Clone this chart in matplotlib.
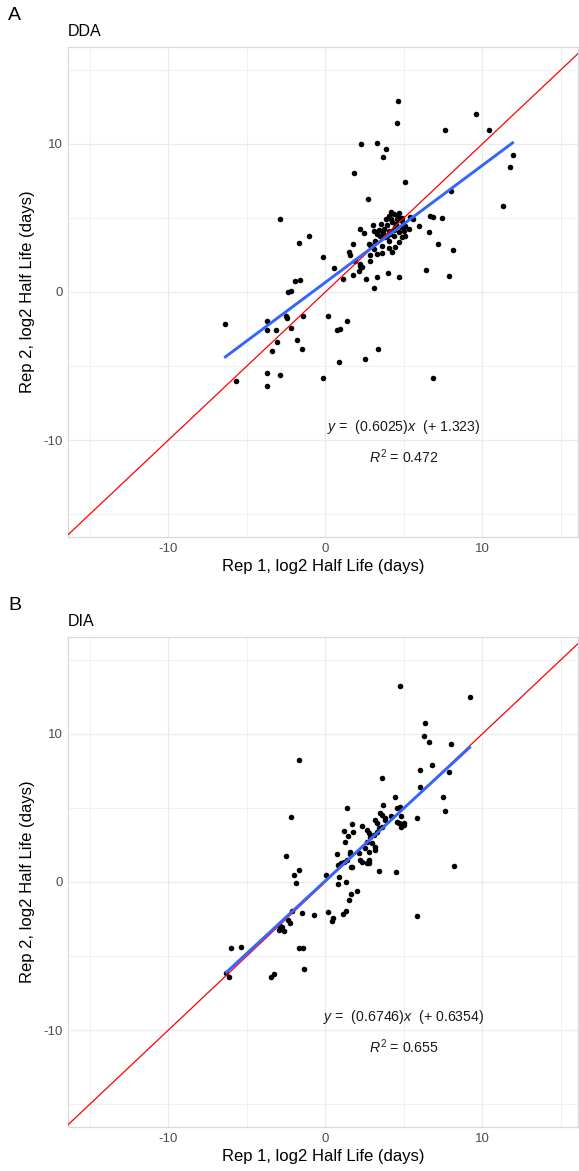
import numpy as np
import matplotlib
matplotlib.use("Agg")
import matplotlib.pyplot as plt

plt.rcParams["font.family"] = ["Liberation Sans", "DejaVu Sans"]
plt.rcParams["mathtext.fontset"] = "custom"
plt.rcParams["mathtext.rm"] = "Liberation Sans"
plt.rcParams["mathtext.it"] = "Liberation Sans:italic"
plt.rcParams["axes.unicode_minus"] = False

# DDA replicate half lives (log2 days)
dda_x = [4.63, 4.54, 9.62, 7.62, 10.42, 2.29, 3.27, 3.86, 3.67, 11.93, 11.76, 1.83, 5.10, 8.03,
         2.72, 11.34, -2.91, 6.67, 6.84, 7.43, 5.58, -1.04, 6.58, -1.70, 2.21, 2.44, 3.01, 3.08,
         1.76, 7.20, 8.13, 1.49, 1.59, -0.17, 2.82, 3.14, 2.87, 3.59, 4.05, 0.53, 2.23, 2.36,
         2.12, 1.78, 1.13, 2.61, 3.29, 3.99, 4.71, 6.39, 7.88, -1.93, -1.64, -2.40, -2.17, 3.12,
         -6.37, -3.74, -3.74, -3.17, -2.48, -2.44, -2.21, -1.40, 0.19, -3.06, -1.80, -3.42, -1.46,
         0.74, 0.93, 1.36, 0.85, 2.53, 3.38, -5.71, -3.74, -3.72, -2.91, -0.13, 6.83,
         3.57, 4.03, 4.35, 4.67, 3.86, 3.71, 4.25, 4.57, 4.88, 5.10, 4.46, 4.03, 4.67, 4.99, 5.31,
         3.50, 3.82, 4.35, 4.88, 4.03, 3.18, 4.67, 5.10, 3.61, 4.46, 2.76, 3.08, 4.25, 5.94, 3.29,
         2.87, 1.91, 2.23, 3.90, 4.20, 4.50, 3.70, 4.10, 4.80, 3.40, 4.40, 3.95, 4.60, 3.30, 4.90,
         5.40, 4.20]
dda_y = [12.90, 11.44, 12.03, 10.97, 10.97, 9.98, 10.07, 9.64, 9.12, 9.26, 8.47, 8.04, 7.41, 6.80,
         6.31, 5.79, 4.95, 5.11, 5.07, 5.00, 4.93, 3.76, 4.05, 3.31, 4.28, 4.00, 4.55, 4.10,
         3.27, 3.24, 2.81, 2.70, 2.50, 2.34, 3.20, 3.47, 2.50, 2.66, 3.00, 1.62, 1.74, 1.69,
         1.40, 1.13, 0.88, 0.90, 0.99, 1.30, 1.03, 1.49, 1.06, 0.77, 0.79, 0.02, 0.07, 0.25,
         -2.16, -1.94, -2.55, -2.59, -1.64, -1.78, -2.41, -1.60, -1.60, -3.40, -3.22, -4.00, -3.85,
         -2.59, -2.47, -1.96, -4.70, -4.50, -3.85, -6.01, -5.50, -6.37, -5.61, -5.79, -5.81,
         4.59, 5.16, 5.27, 5.34, 4.93, 4.26, 4.71, 4.93, 4.82, 4.48, 4.37, 4.14, 4.03, 4.14, 4.26,
         3.80, 3.69, 3.80, 3.69, 3.47, 3.36, 3.36, 3.80, 3.13, 3.02, 3.24, 2.91, 2.68, 4.48, 2.57,
         2.11, 2.11, 1.89, 4.50, 4.90, 4.60, 4.00, 3.90, 4.40, 4.20, 4.20, 3.75, 5.05, 3.90, 5.00,
         5.10, 5.40]

# DIA replicate half lives (log2 days)
dia_x = [4.78, 9.19, 6.33, 6.31, 6.60, 7.98, -1.66, 6.79, 6.01, 7.90, 3.59, 6.05, 4.44, 7.52,
         7.62, 1.38, 3.69, -2.17, 5.84, 4.59, 4.78, 4.84, 3.50, 3.63, 4.16, 3.78, 4.67, 5.03,
         4.84, 1.70, 2.31, 1.17, 1.78, 1.44, 1.23, 0.74, 1.57, -2.48, 8.22, -1.68,
         3.18, 3.29, 3.82, 4.57, 4.99, 2.66, 2.76, 2.87, 3.08, 3.29, 3.40, 3.61, 2.66, 2.97,
         3.18, 2.55, 2.76, 3.18, 2.12, 1.59, 1.38, 2.23, 2.34, 2.76, 2.76, 1.70, 3.40, 4.50,
         -2.02, -1.87, 0.06, 0.87, 0.83, 1.32, 1.66, 2.02, 1.61, 1.49, 1.32, 1.13, 0.17, -0.74,
         0.49, 0.43, -1.46, -2.10, -2.38, -2.23, -2.97, -2.76, -2.65, -2.87, 5.82, -5.99, -5.37,
         -1.70, -1.44, -1.38, -6.30, -6.11, -3.44, -3.29, 0.79, 1.00, 1.17, 2.66]
dia_y = [13.27, 12.50, 10.72, 9.86, 9.48, 9.30, 8.26, 7.91, 7.57, 7.43, 7.00, 6.44, 5.74, 5.74,
         4.82, 5.02, 5.20, 4.41, 4.32, 5.00, 5.05, 4.44, 4.64, 4.53, 4.46, 4.32, 3.96, 3.96,
         3.74, 3.94, 3.78, 3.42, 3.36, 3.09, 2.70, 1.87, 1.87, 1.76, 1.10, 0.81,
         4.19, 4.01, 4.19, 4.07, 3.85, 3.51, 3.29, 3.06, 3.18, 3.40, 3.63, 3.74, 2.72, 2.61,
         2.39, 2.28, 2.05, 2.16, 1.94, 2.05, 1.49, 1.49, 1.37, 1.49, 1.26, 1.03, 0.76, 0.70,
         0.47, -0.09, 0.49, 0.36, -0.16, -0.02, 0.99, -0.61, -0.79, -1.22, -1.96, -2.18, -2.05,
         -2.21, -2.45, -2.61, -2.11, -1.96, -2.57, -2.75, -3.24, -3.02, -3.29, -2.95, -2.28,
         -4.48, -4.39, -4.46, -4.46, -5.90, -6.17, -6.44, -6.40, -6.24, 1.15, 1.30, 1.37, 1.30]

# smooth line as drawn, and the printed equation labels
panels = ["A", "B"]
titles = ["DDA", "DIA"]
fit_slope = [0.79, 0.98]
fit_intercept = [0.65, 0.08]
eq_labels = [r"$y$ =  (0.6025)$x$  (+ 1.323)", r"$y$ =  (0.6746)$x$  (+ 0.6354)"]
r2_labels = [r"$R^2$ = 0.472", r"$R^2$ = 0.655"]
ticks = [-10, 0, 10]
minor_ticks = [-15, -5, 5, 15]

W, H = 579, 1171
fig = plt.figure(figsize=(W / 100, H / 100), dpi=100)

panel_tops = [47, 637]
data = [(dda_x, dda_y), (dia_x, dia_y)]

for i in range(2):
    top = panel_tops[i]
    ax = fig.add_axes([68 / W, 1 - (top + 490) / H, 510 / W, 490 / H])
    xs, ys = np.array(data[i][0]), np.array(data[i][1])

    ax.set_xlim(-16.4, 16.1)
    ax.set_ylim(-16.55, 16.55)
    ax.set_xticks(ticks)
    ax.set_yticks(ticks)
    ax.set_xticks(minor_ticks, minor=True)
    ax.set_yticks(minor_ticks, minor=True)
    ax.grid(True, which="major", color="#EBEBEB", linewidth=0.9)
    ax.grid(True, which="minor", color="#F0F0F0", linewidth=0.7)
    ax.set_axisbelow(True)
    ax.tick_params(which="both", length=0, labelsize=9.5, labelcolor="#4D4D4D", pad=4)
    for s in ax.spines.values():
        s.set_color("#D9D9D9")
        s.set_linewidth(0.9)

    ax.scatter(xs, ys, s=16, color="black", linewidths=0, zorder=3)
    ax.axline((0, 0), slope=1, color="red", linewidth=0.9, zorder=4)
    lx = np.array([xs.min(), xs.max()])
    ax.plot(lx, fit_slope[i] * lx + fit_intercept[i], color="#3366FF", linewidth=2.1, zorder=5)

    ax.text(5, -9.1, eq_labels[i], ha="center", va="center", fontsize=10.2, color="#1A1A1A")
    ax.text(5, -11.1, r2_labels[i], ha="center", va="center", fontsize=10.2, color="#1A1A1A")

    ax.set_xlabel("Rep 1, log2 Half Life (days)", fontsize=12, labelpad=3)
    ax.set_ylabel("Rep 2, log2 Half Life (days)", fontsize=12, labelpad=6)

    fig.text(8 / W, 1 - (top - 31) / H, panels[i], fontsize=14, ha="left", va="center")
    fig.text(68 / W, 1 - (top - 16) / H, titles[i], fontsize=11.5, ha="left", va="center")

fig.savefig("out.png", dpi=100)
